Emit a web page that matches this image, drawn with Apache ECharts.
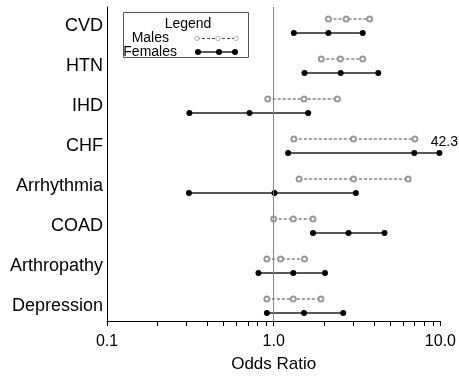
<!DOCTYPE html>
<html>
<head>
<meta charset="utf-8">
<script src="https://cdn.jsdelivr.net/npm/echarts@6/dist/echarts.min.js"></script>
<style>
html,body{margin:0;padding:0;background:#fff;}
#chart{width:459px;height:387px;}
</style>
</head>
<body>
<div id="chart"></div>
<script>
// ---- data ----
const categories = ['CVD','HTN','IHD','CHF','Arrhythmia','COAD','Arthropathy','Depression'];
const maleLow   = [2.13, 1.93, 0.92, 1.32, 1.42, 1.00, 0.91, 0.91];
const maleEst   = [2.72, 2.51, 1.52, 3.01, 3.01, 1.31, 1.10, 1.31];
const maleHigh  = [3.76, 3.42, 2.41, 7.03, 6.40, 1.72, 1.53, 1.92];
const femaleLow  = [1.32, 1.53, 0.312, 1.22, 0.31, 1.72, 0.81, 0.91];
const femaleEst  = [2.13, 2.52, 0.716, 6.97, 1.01, 2.81, 1.31, 1.52];
const femaleHigh = [3.42, 4.24, 1.61, 9.86, 3.11, 4.62, 2.03, 2.61];
const truncatedCategory = 'CHF';
const truncatedLabel = '42.3';
const xTickLabels = [0.1, 1, 10];
const xMinorTicks = [0.1,0.2,0.3,0.4,0.5,0.6,0.7,0.8,0.9,1,2,3,4,5,6,7,8,9,10];
const referenceValue = 1;

const FONT = '"Liberation Sans", Arial, Helvetica, sans-serif';
const rowOffset = 0.175;

const series = [];
categories.forEach((c, i) => {
  series.push({
    type: 'line', name: 'Males',
    data: [[maleLow[i], i - rowOffset], [maleEst[i], i - rowOffset], [maleHigh[i], i - rowOffset]],
    symbol: 'emptyCircle', symbolSize: 5,
    lineStyle: {color: '#444', width: 1, type: [3, 2]},
    itemStyle: {color: '#999', borderColor: '#999', borderWidth: 0.7},
    silent: true, animation: false, z: 3
  });
  const fData = [[femaleLow[i], i + rowOffset], [femaleEst[i], i + rowOffset]];
  if (c === truncatedCategory) {
    fData.push({value: [femaleHigh[i], i + rowOffset],
      label: {show: true, formatter: truncatedLabel, position: 'top', distance: 1,
              offset: [5, 0], color: '#000', fontSize: 14, fontFamily: FONT}});
  } else {
    fData.push([femaleHigh[i], i + rowOffset]);
  }
  series.push({
    type: 'line', name: 'Females',
    data: fData,
    symbol: 'circle', symbolSize: 6,
    lineStyle: {color: '#222', width: 1.3},
    itemStyle: {color: '#000'},
    silent: true, animation: false, z: 4
  });
});
// reference line at OR = 1
series.push({
  type: 'line', data: [], silent: true, animation: false,
  markLine: {symbol: 'none', silent: true, label: {show: false},
    lineStyle: {color: '#888', width: 1, type: 'solid'},
    data: [{xAxis: referenceValue}]},
  z: 1
});

const chart = echarts.init(document.getElementById('chart'), null, {renderer: 'canvas'});
chart.setOption({
  backgroundColor: '#fff',
  animation: false,
  grid: {left: 107, right: 12, top: 7, bottom: 66, containLabel: false},
  xAxis: {
    type: 'log', logBase: 10, min: 0.1, max: 10, position: 'bottom',
    axisLine: {show: true, onZero: false, lineStyle: {color: '#000', width: 1}},
    axisTick: {show: true, length: 5, inside: false, lineStyle: {color: '#000'}, customValues: xMinorTicks},
    axisLabel: {show: true, customValues: xTickLabels, margin: 13, color: '#000', fontSize: 16, fontFamily: FONT,
      formatter: v => (v >= 1 ? Number(v).toFixed(1) : String(Number(v)))},
    splitLine: {show: false},
    name: 'Odds Ratio', nameLocation: 'middle', nameGap: 35,
    nameTextStyle: {color: '#000', fontSize: 17, fontFamily: FONT}
  },
  yAxis: {
    type: 'value', inverse: true, min: -0.475, max: 7.375, position: 'left',
    axisLine: {show: true, onZero: false, lineStyle: {color: '#000', width: 1}},
    axisTick: {show: false},
    splitLine: {show: false},
    axisLabel: {show: true, customValues: [0,1,2,3,4,5,6,7], margin: 4, color: '#000', fontSize: 18, fontFamily: FONT,
      formatter: v => categories[Math.round(v)] || ''}
  },
  graphic: [
    {type: 'rect', shape: {x: 123.5, y: 12.5, width: 125, height: 45},
     style: {fill: '#fff', stroke: '#555', lineWidth: 1}, z: 10},
    {type: 'text', x: 188, y: 24, style: {text: 'Legend', fill: '#000', fontSize: 14, fontFamily: FONT, align: 'center', verticalAlign: 'middle'}, z: 11},
    {type: 'text', x: 169, y: 38, style: {text: 'Males', fill: '#000', fontSize: 14, fontFamily: FONT, align: 'right', verticalAlign: 'middle'}, z: 11},
    {type: 'text', x: 177, y: 52, style: {text: 'Females', fill: '#000', fontSize: 14, fontFamily: FONT, align: 'right', verticalAlign: 'middle'}, z: 11},
    {type: 'line', shape: {x1: 197, y1: 38.5, x2: 236, y2: 38.5}, style: {stroke: '#444', lineWidth: 1, lineDash: [3, 2]}, z: 11},
    {type: 'circle', shape: {cx: 197, cy: 38.5, r: 2.2}, style: {fill: '#fff', stroke: '#999', lineWidth: 0.7}, z: 12},
    {type: 'circle', shape: {cx: 218, cy: 38.5, r: 2.2}, style: {fill: '#fff', stroke: '#999', lineWidth: 0.7}, z: 12},
    {type: 'circle', shape: {cx: 236, cy: 38.5, r: 2.2}, style: {fill: '#fff', stroke: '#999', lineWidth: 0.7}, z: 12},
    {type: 'line', shape: {x1: 198, y1: 52, x2: 235, y2: 52}, style: {stroke: '#222', lineWidth: 1.3}, z: 11},
    {type: 'circle', shape: {cx: 198, cy: 52, r: 3}, style: {fill: '#000'}, z: 12},
    {type: 'circle', shape: {cx: 219, cy: 52, r: 3}, style: {fill: '#000'}, z: 12},
    {type: 'circle', shape: {cx: 235, cy: 52, r: 3}, style: {fill: '#000'}, z: 12}
  ],
  series: series
});
</script>
</body>
</html>
